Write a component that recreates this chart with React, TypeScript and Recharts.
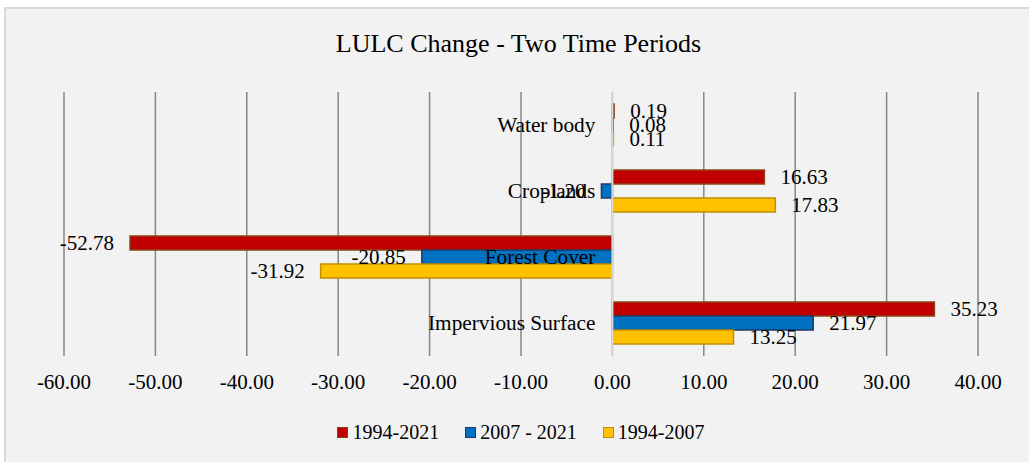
import React from "react";
import {
  BarChart,
  Bar,
  XAxis,
  YAxis,
  CartesianGrid,
  ReferenceLine,
  LabelList,
} from "recharts";

const categories = ["Water body", "Croplands", "Forest Cover", "Impervious Surface"];
const change1994to2021 = [0.19, 16.63, -52.78, 35.23];
const change2007to2021 = [0.08, -1.2, -20.85, 21.97];
const change1994to2007 = [0.11, 17.83, -31.92, 13.25];
const xTicks = [-60, -50, -40, -30, -20, -10, 0, 10, 20, 30, 40];

const series = [
  { key: "a", name: "1994-2021", fill: "#C00000", stroke: "#8B4513" },
  { key: "b", name: "2007 - 2021", fill: "#0070C0", stroke: "#1F3864" },
  { key: "c", name: "1994-2007", fill: "#FFC000", stroke: "#BF9000" },
];

const data = categories.map((name, i) => ({
  name,
  a: change1994to2021[i],
  b: change2007to2021[i],
  c: change1994to2007[i],
}));

const FONT = '"Liberation Serif", "Times New Roman", serif';
const CHART_W = 1025;
const CHART_H = 455;
const Y_AXIS_W = 1;
const MARGIN = { top: 83, right: 53, bottom: 78, left: 57 };
const X_MIN = -60;
const X_MAX = 40;

// category names sit just left of the zero line, like excel's "next to axis"
function CategoryTick(props: any) {
  const left = MARGIN.left + Y_AXIS_W;
  const plotW = CHART_W - left - MARGIN.right;
  const zeroX = left + ((0 - X_MIN) / (X_MAX - X_MIN)) * plotW;
  return (
    <text
      x={zeroX - 17}
      y={props.y}
      dy="0.35em"
      textAnchor="end"
      fill="#000"
      fontSize={21.3}
      fontFamily={FONT}
    >
      {props.payload.value}
    </text>
  );
}

export default function App() {
  return (
    <div style={{ position: "relative", width: 1029, height: 462, overflow: "hidden" }}>
      <style>{`body{margin:0;overflow:hidden}`}</style>
      <div
        style={{
          position: "absolute",
          left: 4,
          top: 7,
          width: 1040,
          height: 470,
          background: "#F2F2F2",
          border: "2px solid #D9D9D9",
        }}
      >
        <div
          style={{
            position: "absolute",
            top: 20,
            left: 0,
            width: CHART_W,
            textAlign: "center",
            fontFamily: FONT,
            fontSize: 26,
            color: "#000",
          }}
        >
          LULC Change - Two Time Periods
        </div>
        <BarChart
          width={CHART_W}
          height={CHART_H}
          data={data}
          layout="vertical"
          margin={MARGIN}
          barCategoryGap="18%"
          barGap={0}
        >
          <CartesianGrid horizontal={false} stroke="#868686" strokeWidth={1.5} />
          <XAxis
            type="number"
            domain={[X_MIN, X_MAX]}
            ticks={xTicks}
            tickFormatter={(v: number) => v.toFixed(2)}
            axisLine={false}
            tickLine={false}
            tickSize={0}
            tickMargin={18}
            tick={{ fontSize: 21, fill: "#000", fontFamily: FONT }}
            height={30}
          />
          <ReferenceLine x={0} stroke="#D9D9D9" strokeWidth={2} />
          {series.map((s) => (
            <Bar
              key={s.key}
              dataKey={s.key}
              name={s.name}
              fill={s.fill}
              stroke={s.stroke}
              strokeWidth={1.5}
              isAnimationActive={false}
            >
              <LabelList
                dataKey={s.key}
                position="right"
                offset={16}
                formatter={(v: any) => Number(v).toFixed(2)}
                style={{ fontSize: 21, fill: "#000", fontFamily: FONT }}
              />
            </Bar>
          ))}
          <YAxis
            type="category"
            dataKey="name"
            width={Y_AXIS_W}
            axisLine={false}
            tickLine={false}
            tick={(p: any) => <CategoryTick {...p} />}
          />
        </BarChart>
        <div
          style={{
            position: "absolute",
            top: 412,
            left: 0,
            width: 1030,
            display: "flex",
            justifyContent: "center",
            gap: 26,
            fontFamily: FONT,
            fontSize: 20,
            color: "#000",
          }}
        >
          {series.map((s) => (
            <div key={s.key} style={{ display: "flex", alignItems: "center" }}>
              <span
                style={{
                  display: "inline-block",
                  width: 9,
                  height: 9,
                  background: s.fill,
                  border: `1.5px solid ${s.stroke}`,
                  marginRight: 4,
                }}
              />
              <span>{s.name}</span>
            </div>
          ))}
        </div>
      </div>
    </div>
  );
}
